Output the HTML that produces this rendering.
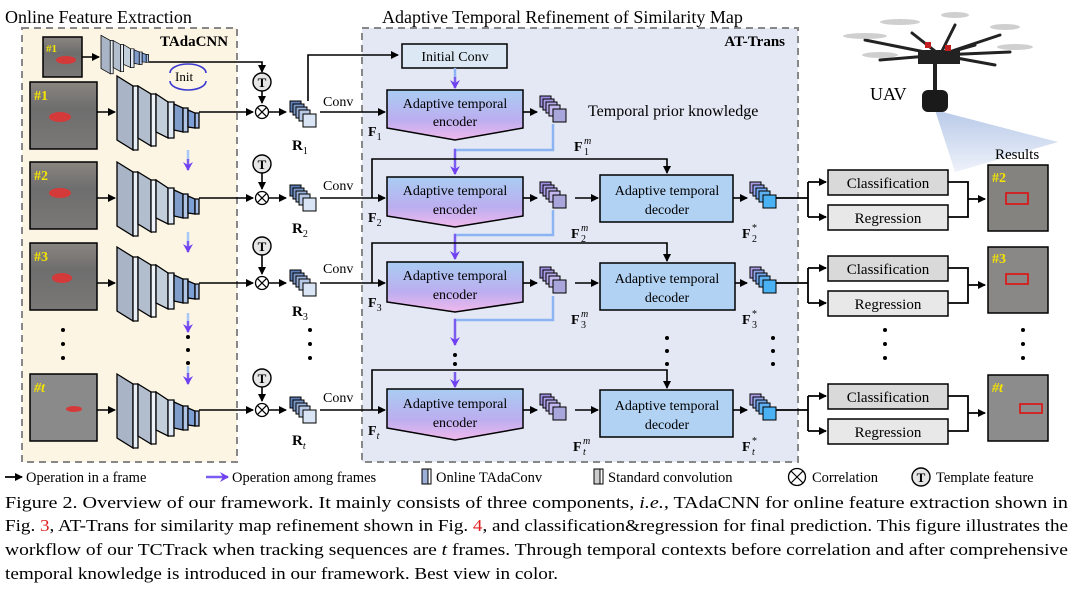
<!DOCTYPE html>
<html><head><meta charset="utf-8"><style>
html,body{margin:0;padding:0;background:#fff;}
svg{display:block;font-family:"Liberation Serif",serif;}
</style></head><body>
<svg width="1080" height="599" viewBox="0 0 1080 599" xmlns="http://www.w3.org/2000/svg">
<defs>
<marker id="ak" markerWidth="8" markerHeight="8" refX="7" refY="4" orient="auto" markerUnits="userSpaceOnUse"><path d="M0,0 L8,4 L0,8 z" fill="#000"/></marker>
<marker id="ap" markerWidth="10" markerHeight="10" refX="8" refY="5" orient="auto" markerUnits="userSpaceOnUse"><path d="M0,0 L9,5 L0,10 L3,5 z" fill="#7040f0"/></marker>
<linearGradient id="enc" x1="0" y1="0" x2="0" y2="1"><stop offset="0" stop-color="#a9cdf2"/><stop offset="0.6" stop-color="#bcaef0"/><stop offset="1" stop-color="#f0b8ec"/></linearGradient>
<linearGradient id="beam" x1="0" y1="0" x2="0" y2="1"><stop offset="0" stop-color="#b8c9e8"/><stop offset="1" stop-color="#eef2fa"/></linearGradient>
<linearGradient id="img" x1="0" y1="0" x2="0" y2="1"><stop offset="0" stop-color="#8a8580"/><stop offset="0.4" stop-color="#6e6e6e"/><stop offset="1" stop-color="#7a7876"/></linearGradient>
<g id="cnn">
<polygon points="0,-36 16,-26 16,38 0,28" fill="#a9b5c6" stroke="#000" stroke-width="1.3"/>
<polygon points="16,-26 21,-26 21,38 16,38" fill="#e8eef6" stroke="#000" stroke-width="1.3"/>
<polygon points="21,-26 34,-18 34,34 21,26" fill="#b2bdcd" stroke="#000" stroke-width="1.3"/>
<polygon points="34,-18 39,-18 39,34 34,34" fill="#eef3f9" stroke="#000" stroke-width="1.3"/>
<polygon points="39,-18 51,-10 51,26 39,20" fill="#c3cedb" stroke="#000" stroke-width="1.3"/>
<polygon points="51,-10 57,-10 57,26 51,26" fill="#dde8f4" stroke="#000" stroke-width="1.3"/>
<polygon points="57,-8 66,-4 66,20 57,18" fill="#7f9ccb" stroke="#000" stroke-width="1.3"/>
<polygon points="66,-4 71,-4 71,20 66,20" fill="#b0c4e6" stroke="#000" stroke-width="1.3"/>
<polygon points="71,-2 78,1 78,16 71,15" fill="#7c9fd6" stroke="#000" stroke-width="1.3"/>
<polygon points="78,1 82,1 82,16 78,16" fill="#a5bde6" stroke="#000" stroke-width="1.3"/>
</g>
<g id="rstk" stroke="#000" stroke-width="1">
<rect x="0" y="0" width="11" height="11" fill="#5b7db5"/>
<rect x="3" y="3" width="11" height="11" fill="#7a97c7"/>
<rect x="6" y="6" width="11" height="11" fill="#98b0d8"/>
<rect x="9" y="9" width="11" height="11" fill="#b7c9e6"/>
<rect x="13" y="13" width="13" height="13" fill="#d9e4f4"/>
</g>
<g id="mstk" stroke="#000" stroke-width="1">
<rect x="0" y="0" width="11" height="11" fill="#9d8ee2"/>
<rect x="3" y="3" width="11" height="11" fill="#a99be6"/>
<rect x="6" y="6" width="11" height="11" fill="#b5a9ea"/>
<rect x="9" y="9" width="11" height="11" fill="#c3b9ef"/>
<rect x="13" y="13" width="13" height="13" fill="#a9a6dc"/>
</g>
<g id="sstk" stroke="#000" stroke-width="1">
<rect x="0" y="0" width="11" height="11" fill="#a99be6"/>
<rect x="3" y="3" width="11" height="11" fill="#8fa6ec"/>
<rect x="6" y="6" width="11" height="11" fill="#73a8ee"/>
<rect x="9" y="9" width="11" height="11" fill="#5fb0f0"/>
<rect x="13" y="13" width="13" height="13" fill="#4ab2f2"/>
</g>
<g id="tc"><circle r="9" fill="#e6e6e6" stroke="#000" stroke-width="1.4"/><text y="5" text-anchor="middle" font-size="13" font-weight="bold">T</text></g>
<g id="ox"><circle r="6.5" fill="#fff" stroke="#000" stroke-width="1.3"/><path d="M-4.6,-4.6 L4.6,4.6 M-4.6,4.6 L4.6,-4.6" stroke="#000" stroke-width="1.2"/></g>
</defs>

<text x="5" y="23" font-size="18">Online Feature Extraction</text>
<text x="382" y="23" font-size="18">Adaptive Temporal Refinement of Similarity Map</text>

<rect x="22" y="28" width="215" height="434" fill="#fdf5e4" stroke="#888" stroke-width="2" stroke-dasharray="7,5"/>
<rect x="362" y="28" width="436" height="434" fill="#e4e8f4" stroke="#888" stroke-width="2" stroke-dasharray="7,5"/>
<text x="160" y="46" font-size="15" font-weight="bold">TAdaCNN</text>
<text x="785" y="46" font-size="15" font-weight="bold" text-anchor="end">AT-Trans</text>

<!-- UAV -->
<polygon points="935,110 1058,142 955,172" fill="url(#beam)"/>
<g stroke="#222" stroke-width="3" stroke-linecap="round">
<line x1="940" y1="55" x2="865" y2="40"/><line x1="940" y1="55" x2="880" y2="60"/><line x1="940" y1="55" x2="955" y2="25"/>
<line x1="940" y1="55" x2="1000" y2="35"/><line x1="940" y1="55" x2="1010" y2="52"/><line x1="940" y1="55" x2="995" y2="65"/>
<line x1="940" y1="55" x2="912" y2="33"/><line x1="940" y1="55" x2="975" y2="45"/>
</g>
<g fill="#bbb" opacity="0.7">
<ellipse cx="865" cy="36" rx="22" ry="3"/><ellipse cx="900" cy="22" rx="20" ry="3"/><ellipse cx="955" cy="15" rx="14" ry="3"/>
<ellipse cx="1005" cy="27" rx="15" ry="3"/><ellipse cx="1015" cy="47" rx="18" ry="3"/><ellipse cx="880" cy="55" rx="18" ry="3"/>
</g>
<rect x="918" y="50" width="42" height="14" fill="#222"/>
<rect x="925" y="42" width="6" height="6" fill="#c02020"/><rect x="945" y="45" width="6" height="6" fill="#c02020"/>
<line x1="935" y1="64" x2="935" y2="90" stroke="#222" stroke-width="4"/>
<rect x="922" y="90" width="26" height="22" rx="6" fill="#1a1a1a"/>
<text x="870" y="100" font-size="18">UAV</text>
<text x="995" y="159" font-size="15">Results</text>

<!-- Template row -->
<rect x="43" y="37" width="39" height="40" fill="url(#img)" stroke="#000" stroke-width="1.5"/>
<ellipse cx="66" cy="60" rx="10" ry="4" fill="#d53a3a"/>
<text x="46" y="52" font-size="11" font-weight="bold" fill="#f4e400">#1</text>
<line x1="82" y1="57" x2="99" y2="57" stroke="#000" stroke-width="1.6" marker-end="url(#ak)"/>
<use href="#cnn" transform="translate(101,54) scale(0.58,0.52)"/>
<polyline points="149,62 262,62 262,72" fill="none" stroke="#000" stroke-width="1.6" marker-end="url(#ak)"/>
<text x="175" y="81" font-size="13">Init</text>
<path d="M170,73 A18,9 0 0 1 206,73" fill="none" stroke="#3a3ad0" stroke-width="1.6"/>
<path d="M170,81 A18,9 0 0 0 206,81" fill="none" stroke="#3a3ad0" stroke-width="1.6"/>

<!-- frames -->
<rect x="30" y="82" width="67" height="67" fill="url(#img)" stroke="#000" stroke-width="1.5"/>
<ellipse cx="60" cy="117" rx="11" ry="5" fill="#d53a3a"/>
<text x="34" y="100" font-size="14" font-weight="bold" fill="#f4e400">#1</text>
<rect x="30" y="162" width="67" height="67" fill="url(#img)" stroke="#000" stroke-width="1.5"/>
<ellipse cx="60" cy="193" rx="11" ry="5" fill="#d53a3a"/>
<text x="34" y="180" font-size="14" font-weight="bold" fill="#f4e400">#2</text>
<rect x="30" y="243" width="67" height="67" fill="url(#img)" stroke="#000" stroke-width="1.5"/>
<ellipse cx="62" cy="278" rx="10" ry="5" fill="#d53a3a"/>
<text x="34" y="261" font-size="14" font-weight="bold" fill="#f4e400">#3</text>
<rect x="30" y="374" width="67" height="67" fill="#8a8a8a" stroke="#000" stroke-width="1.5"/>
<ellipse cx="74" cy="409" rx="8" ry="3" fill="#d53a3a"/>
<text x="34" y="392" font-size="14" font-weight="bold" font-style="italic" fill="#f4e400">#t</text>

<g fill="#000"><circle cx="63" cy="330" r="2"/><circle cx="63" cy="344" r="2"/><circle cx="63" cy="358" r="2"/>
<circle cx="188" cy="337" r="2"/><circle cx="188" cy="350" r="2"/><circle cx="188" cy="363" r="2"/>
<circle cx="310" cy="330" r="2"/><circle cx="310" cy="344" r="2"/><circle cx="310" cy="358" r="2"/>
<circle cx="667" cy="338" r="2"/><circle cx="667" cy="351" r="2"/><circle cx="667" cy="364" r="2"/>
<circle cx="773" cy="338" r="2"/><circle cx="773" cy="351" r="2"/><circle cx="773" cy="364" r="2"/>
<circle cx="885" cy="330" r="2"/><circle cx="885" cy="344" r="2"/><circle cx="885" cy="358" r="2"/>
<circle cx="1023" cy="330" r="2"/><circle cx="1023" cy="344" r="2"/><circle cx="1023" cy="358" r="2"/>
<circle cx="455" cy="355" r="2"/><circle cx="455" cy="364" r="2"/></g>

<!-- between-frame arrows -->
<g stroke-width="2.5">
<line x1="188" y1="150" x2="188" y2="160" stroke="#a8c8f8"/><line x1="188" y1="159" x2="188" y2="170" stroke="#7a5cf0" marker-end="url(#ap)"/>
<line x1="188" y1="232" x2="188" y2="242" stroke="#a8c8f8"/><line x1="188" y1="241" x2="188" y2="252" stroke="#7a5cf0" marker-end="url(#ap)"/>
<line x1="188" y1="313" x2="188" y2="322" stroke="#a8c8f8"/><line x1="188" y1="321" x2="188" y2="332" stroke="#7a5cf0" marker-end="url(#ap)"/>
<line x1="188" y1="366" x2="188" y2="374" stroke="#a8c8f8"/><line x1="188" y1="373" x2="188" y2="384" stroke="#7a5cf0" marker-end="url(#ap)"/>
</g>

<!-- Row 1 -->
<line x1="97" y1="112" x2="115" y2="112" stroke="#000" stroke-width="1.6" marker-end="url(#ak)"/>
<use href="#cnn" x="117" y="112"/>
<line x1="199" y1="112" x2="253" y2="112" stroke="#000" stroke-width="1.6" marker-end="url(#ak)"/>
<use href="#tc" x="262" y="82"/>
<line x1="262" y1="91" x2="262" y2="103" stroke="#000" stroke-width="1.6" marker-end="url(#ak)"/>
<use href="#ox" x="262" y="112"/>
<line x1="269" y1="112" x2="286" y2="112" stroke="#000" stroke-width="1.6" marker-end="url(#ak)"/>
<use href="#rstk" x="290" y="101"/>
<text x="292" y="150" font-size="15" font-weight="bold">R<tspan font-size="10" font-weight="normal" dy="4">1</tspan></text>
<polyline points="308,101 308,55 398,55" fill="none" stroke="#000" stroke-width="1.6" marker-end="url(#ak)"/>
<text x="323" y="106" font-size="14">Conv</text>
<line x1="320" y1="112" x2="385" y2="112" stroke="#000" stroke-width="1.6" marker-end="url(#ak)"/>
<rect x="402" y="44" width="105" height="24" fill="#dce9f4" stroke="#000" stroke-width="1.5"/>
<text x="455" y="61" font-size="14" text-anchor="middle">Initial Conv</text>
<line x1="455" y1="68" x2="455" y2="78" stroke="#8cb4f2" stroke-width="2.5"/>
<line x1="455" y1="77" x2="455" y2="88" stroke="#7a5cf0" stroke-width="2.5" marker-end="url(#ap)"/>
<polygon points="387,90 523,90 523,128 455,140 387,128" fill="url(#enc)" stroke="#000" stroke-width="1.5"/>
<text x="455" y="108" font-size="14" text-anchor="middle">Adaptive temporal</text>
<text x="455" y="126" font-size="14" text-anchor="middle">encoder</text>
<text x="368" y="136" font-size="14" font-weight="bold">F<tspan font-size="10" font-weight="normal" dy="4">1</tspan></text>
<line x1="523" y1="112" x2="537" y2="112" stroke="#000" stroke-width="1.6" marker-end="url(#ak)"/>
<use href="#mstk" x="540" y="96"/>
<text x="588" y="116" font-size="16">Temporal prior knowledge</text>
<text x="574" y="151" font-size="14" font-weight="bold">F</text><text x="584" y="144" font-size="10" font-style="italic">m</text><text x="584" y="155" font-size="10">1</text>

<!-- Row 2 -->
<polyline points="553,124 553,150 455,150" fill="none" stroke="#8cb4f2" stroke-width="2.5"/>
<polyline points="456,150 455,150 455,174" fill="none" stroke="#7a5cf0" stroke-width="2.5" marker-end="url(#ap)"/>
<line x1="97" y1="198" x2="115" y2="198" stroke="#000" stroke-width="1.6" marker-end="url(#ak)"/>
<use href="#cnn" x="117" y="198"/>
<line x1="199" y1="198" x2="253" y2="198" stroke="#000" stroke-width="1.6" marker-end="url(#ak)"/>
<use href="#tc" x="262" y="164"/>
<line x1="262" y1="173" x2="262" y2="189" stroke="#000" stroke-width="1.6" marker-end="url(#ak)"/>
<use href="#ox" x="262" y="198"/>
<line x1="269" y1="198" x2="286" y2="198" stroke="#000" stroke-width="1.6" marker-end="url(#ak)"/>
<use href="#rstk" x="290" y="185"/>
<text x="292" y="233" font-size="15" font-weight="bold">R<tspan font-size="10" font-weight="normal" dy="4">2</tspan></text>
<text x="323" y="190" font-size="14">Conv</text>
<line x1="320" y1="198" x2="385" y2="198" stroke="#000" stroke-width="1.6" marker-end="url(#ak)"/>
<polyline points="372,198 372,159 667,159 667,173" fill="none" stroke="#000" stroke-width="1.6" marker-end="url(#ak)"/>
<polygon points="387,177 523,177 523,216 455,227 387,216" fill="url(#enc)" stroke="#000" stroke-width="1.5"/>
<text x="455" y="195" font-size="14" text-anchor="middle">Adaptive temporal</text>
<text x="455" y="214" font-size="14" text-anchor="middle">encoder</text>
<text x="368" y="222" font-size="14" font-weight="bold">F<tspan font-size="10" font-weight="normal" dy="4">2</tspan></text>
<line x1="523" y1="198" x2="537" y2="198" stroke="#000" stroke-width="1.6" marker-end="url(#ak)"/>
<use href="#mstk" x="540" y="182"/>
<text x="571" y="238" font-size="14" font-weight="bold">F</text><text x="581" y="231" font-size="10" font-style="italic">m</text><text x="581" y="242" font-size="10">2</text>
<line x1="575" y1="198" x2="598" y2="198" stroke="#000" stroke-width="1.6" marker-end="url(#ak)"/>
<rect x="600" y="175" width="133" height="47" fill="#b2d2f4" stroke="#000" stroke-width="1.5"/>
<text x="667" y="195" font-size="14" text-anchor="middle">Adaptive temporal</text>
<text x="667" y="214" font-size="14" text-anchor="middle">decoder</text>
<line x1="733" y1="198" x2="747" y2="198" stroke="#000" stroke-width="1.6" marker-end="url(#ak)"/>
<use href="#sstk" x="750" y="182"/>
<text x="742" y="238" font-size="14" font-weight="bold">F</text><text x="752" y="231" font-size="10">*</text><text x="752" y="242" font-size="10">2</text>

<!-- Row 3 -->
<polyline points="553,210 553,235 455,235" fill="none" stroke="#8cb4f2" stroke-width="2.5"/>
<polyline points="456,235 455,235 455,259" fill="none" stroke="#7a5cf0" stroke-width="2.5" marker-end="url(#ap)"/>
<line x1="97" y1="283" x2="115" y2="283" stroke="#000" stroke-width="1.6" marker-end="url(#ak)"/>
<use href="#cnn" x="117" y="283"/>
<line x1="199" y1="283" x2="253" y2="283" stroke="#000" stroke-width="1.6" marker-end="url(#ak)"/>
<use href="#tc" x="262" y="246"/>
<line x1="262" y1="255" x2="262" y2="274" stroke="#000" stroke-width="1.6" marker-end="url(#ak)"/>
<use href="#ox" x="262" y="283"/>
<line x1="269" y1="283" x2="286" y2="283" stroke="#000" stroke-width="1.6" marker-end="url(#ak)"/>
<use href="#rstk" x="290" y="270"/>
<text x="292" y="316" font-size="15" font-weight="bold">R<tspan font-size="10" font-weight="normal" dy="4">3</tspan></text>
<text x="323" y="273" font-size="14">Conv</text>
<line x1="320" y1="283" x2="385" y2="283" stroke="#000" stroke-width="1.6" marker-end="url(#ak)"/>
<polyline points="372,283 372,243 667,243 667,261" fill="none" stroke="#000" stroke-width="1.6" marker-end="url(#ak)"/>
<polygon points="387,262 523,262 523,302 455,312 387,302" fill="url(#enc)" stroke="#000" stroke-width="1.5"/>
<text x="455" y="280" font-size="14" text-anchor="middle">Adaptive temporal</text>
<text x="455" y="299" font-size="14" text-anchor="middle">encoder</text>
<text x="368" y="307" font-size="14" font-weight="bold">F<tspan font-size="10" font-weight="normal" dy="4">3</tspan></text>
<line x1="523" y1="283" x2="537" y2="283" stroke="#000" stroke-width="1.6" marker-end="url(#ak)"/>
<use href="#mstk" x="540" y="267"/>
<text x="571" y="324" font-size="14" font-weight="bold">F</text><text x="581" y="317" font-size="10" font-style="italic">m</text><text x="581" y="328" font-size="10">3</text>
<line x1="575" y1="283" x2="598" y2="283" stroke="#000" stroke-width="1.6" marker-end="url(#ak)"/>
<rect x="600" y="263" width="135" height="47" fill="#b2d2f4" stroke="#000" stroke-width="1.5"/>
<text x="667" y="283" font-size="14" text-anchor="middle">Adaptive temporal</text>
<text x="667" y="302" font-size="14" text-anchor="middle">decoder</text>
<line x1="735" y1="283" x2="747" y2="283" stroke="#000" stroke-width="1.6" marker-end="url(#ak)"/>
<use href="#sstk" x="750" y="267"/>
<text x="742" y="324" font-size="14" font-weight="bold">F</text><text x="752" y="317" font-size="10">*</text><text x="752" y="328" font-size="10">3</text>

<!-- between 3 and t -->
<polyline points="553,296 553,320 455,320" fill="none" stroke="#8cb4f2" stroke-width="2.5"/>
<polyline points="456,320 455,320 455,345" fill="none" stroke="#7a5cf0" stroke-width="2.5" marker-end="url(#ap)"/>
<line x1="455" y1="372" x2="455" y2="387" stroke="#7a5cf0" stroke-width="2.5" marker-end="url(#ap)"/>

<!-- Row t -->
<line x1="97" y1="410" x2="115" y2="410" stroke="#000" stroke-width="1.6" marker-end="url(#ak)"/>
<use href="#cnn" x="117" y="410"/>
<line x1="199" y1="410" x2="253" y2="410" stroke="#000" stroke-width="1.6" marker-end="url(#ak)"/>
<use href="#tc" x="262" y="378"/>
<line x1="262" y1="387" x2="262" y2="401" stroke="#000" stroke-width="1.6" marker-end="url(#ak)"/>
<use href="#ox" x="262" y="410"/>
<line x1="269" y1="410" x2="286" y2="410" stroke="#000" stroke-width="1.6" marker-end="url(#ak)"/>
<use href="#rstk" x="290" y="397"/>
<text x="292" y="445" font-size="15" font-weight="bold">R<tspan font-size="10" font-style="italic" font-weight="normal" dy="4">t</tspan></text>
<text x="323" y="402" font-size="14">Conv</text>
<line x1="320" y1="410" x2="385" y2="410" stroke="#000" stroke-width="1.6" marker-end="url(#ak)"/>
<polyline points="372,410 372,370 667,370 667,388" fill="none" stroke="#000" stroke-width="1.6" marker-end="url(#ak)"/>
<polygon points="387,389 523,389 523,428 455,440 387,428" fill="url(#enc)" stroke="#000" stroke-width="1.5"/>
<text x="455" y="408" font-size="14" text-anchor="middle">Adaptive temporal</text>
<text x="455" y="427" font-size="14" text-anchor="middle">encoder</text>
<text x="368" y="435" font-size="14" font-weight="bold">F<tspan font-size="10" font-style="italic" font-weight="normal" dy="4">t</tspan></text>
<line x1="523" y1="410" x2="537" y2="410" stroke="#000" stroke-width="1.6" marker-end="url(#ak)"/>
<use href="#mstk" x="540" y="394"/>
<text x="573" y="451" font-size="14" font-weight="bold">F</text><text x="583" y="444" font-size="10" font-style="italic">m</text><text x="583" y="455" font-size="10" font-style="italic">t</text>
<line x1="575" y1="410" x2="598" y2="410" stroke="#000" stroke-width="1.6" marker-end="url(#ak)"/>
<rect x="600" y="390" width="133" height="47" fill="#b2d2f4" stroke="#000" stroke-width="1.5"/>
<text x="667" y="410" font-size="14" text-anchor="middle">Adaptive temporal</text>
<text x="667" y="429" font-size="14" text-anchor="middle">decoder</text>
<line x1="733" y1="410" x2="747" y2="410" stroke="#000" stroke-width="1.6" marker-end="url(#ak)"/>
<use href="#sstk" x="750" y="394"/>
<text x="742" y="451" font-size="14" font-weight="bold">F</text><text x="752" y="444" font-size="10">*</text><text x="752" y="455" font-size="10" font-style="italic">t</text>

<!-- Heads -->
<g stroke="#000" stroke-width="1.8" fill="none">
<polyline points="776,198 808,198"/><polyline points="808,182 808,217"/>
<line x1="808" y1="182" x2="826" y2="182" marker-end="url(#ak)"/><line x1="808" y1="217" x2="826" y2="217" marker-end="url(#ak)"/>
<polyline points="948,182 968,182 968,217 948,217"/><line x1="968" y1="199" x2="985" y2="199" marker-end="url(#ak)"/>
<polyline points="776,283 808,283"/><polyline points="808,268 808,303"/>
<line x1="808" y1="268" x2="826" y2="268" marker-end="url(#ak)"/><line x1="808" y1="303" x2="826" y2="303" marker-end="url(#ak)"/>
<polyline points="948,268 968,268 968,303 948,303"/><line x1="968" y1="285" x2="985" y2="285" marker-end="url(#ak)"/>
<polyline points="776,410 808,410"/><polyline points="808,396 808,431"/>
<line x1="808" y1="396" x2="826" y2="396" marker-end="url(#ak)"/><line x1="808" y1="431" x2="826" y2="431" marker-end="url(#ak)"/>
<polyline points="948,396 968,396 968,431 948,431"/><line x1="968" y1="413" x2="985" y2="413" marker-end="url(#ak)"/>
</g>
<g stroke="#000" stroke-width="1.5">
<rect x="828" y="170" width="120" height="25" fill="#d9d9d9"/><rect x="828" y="205" width="120" height="25" fill="#e8e8e8"/>
<rect x="828" y="256" width="120" height="25" fill="#d9d9d9"/><rect x="828" y="291" width="120" height="25" fill="#e8e8e8"/>
<rect x="828" y="384" width="120" height="25" fill="#d9d9d9"/><rect x="828" y="419" width="120" height="25" fill="#e8e8e8"/>
</g>
<g font-size="15" text-anchor="middle">
<text x="888" y="188">Classification</text><text x="888" y="223">Regression</text>
<text x="888" y="274">Classification</text><text x="888" y="309">Regression</text>
<text x="888" y="402">Classification</text><text x="888" y="437">Regression</text>
</g>
<g stroke="#000" stroke-width="1.5">
<rect x="988" y="165" width="60" height="66" fill="#858380"/>
<rect x="988" y="247" width="60" height="66" fill="#8a8886"/>
<rect x="988" y="375" width="60" height="66" fill="#8c8c8c"/>
</g>
<g fill="none" stroke="#e01010" stroke-width="1.6">
<rect x="1006" y="193" width="22" height="11"/><rect x="1006" y="274" width="22" height="10"/><rect x="1020" y="404" width="22" height="9"/>
</g>
<g font-weight="bold" fill="#f4e400" font-size="14">
<text x="992" y="182">#2</text><text x="992" y="263">#3</text><text x="992" y="392" font-style="italic">#t</text>
</g>

<!-- Legend -->
<g font-size="14.5">
<line x1="5" y1="477" x2="22" y2="477" stroke="#000" stroke-width="1.8" marker-end="url(#ak)"/>
<text x="26" y="482">Operation in a frame</text>
<line x1="206" y1="477" x2="228" y2="477" stroke="#7a5cf0" stroke-width="2.5" marker-end="url(#ap)"/>
<text x="232" y="482">Operation among frames</text>
<rect x="422" y="469" width="6" height="15" fill="#9cb0d8" stroke="#000"/><rect x="428" y="469" width="3" height="15" fill="#fff" stroke="#000"/>
<text x="436" y="482">Online TAdaConv</text>
<rect x="594" y="469" width="6" height="15" fill="#ccc" stroke="#000"/><rect x="600" y="469" width="3" height="15" fill="#fff" stroke="#000"/>
<text x="608" y="482">Standard convolution</text>
<circle cx="797" cy="477" r="8.5" fill="#fff" stroke="#000" stroke-width="1.3"/>
<path d="M791,471 L803,483 M791,483 L803,471" stroke="#000" stroke-width="1.2"/>
<text x="812" y="482">Correlation</text>
<use href="#tc" x="921" y="477"/>
<text x="936" y="482">Template feature</text>
</g>

<!-- Caption -->
<g font-size="17">
<text x="5" y="508" textLength="1063" lengthAdjust="spacingAndGlyphs">Figure 2.  Overview of our framework.  It mainly consists of three components, <tspan font-style="italic">i.e.</tspan>, TAdaCNN for online feature extraction shown in</text>
<text x="5" y="531" textLength="1063" lengthAdjust="spacingAndGlyphs">Fig. <tspan fill="#e02020">3</tspan>, AT-Trans for similarity map refinement shown in Fig. <tspan fill="#e02020">4</tspan>, and classification&amp;regression for final prediction. This figure illustrates the</text>
<text x="5" y="555" textLength="1063" lengthAdjust="spacingAndGlyphs">workflow of our TCTrack when tracking sequences are <tspan font-style="italic">t</tspan> frames.  Through temporal contexts before correlation and after comprehensive</text>
<text x="5" y="579" textLength="553" lengthAdjust="spacingAndGlyphs">temporal knowledge is introduced in our framework. Best view in color.</text>
</g>
</svg>
</body></html>
